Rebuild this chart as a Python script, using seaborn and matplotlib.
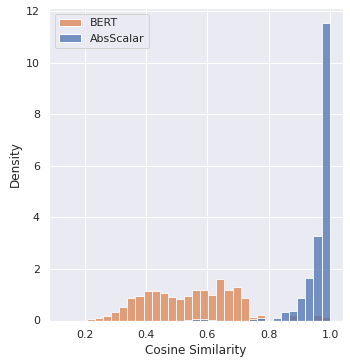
import numpy as np
import pandas as pd
import matplotlib
matplotlib.use("Agg")
import matplotlib.pyplot as plt
import seaborn as sns

# Bin layout (common bins for both models)
bin_lo = 0.1288
bin_hi = 0.9988
n_bins = 33

models = ["AbsScalar", "BERT"]
legend_order = ["BERT", "AbsScalar"]

bert_density = [0.0, 0.0, 0.0, 0.045, 0.084, 0.19, 0.34, 0.54, 0.89, 0.96,
                1.16, 1.16, 1.08, 0.93, 0.82, 0.96, 1.20, 1.20, 1.00, 1.62,
                1.20, 1.31, 0.89, 0.15, 0.23, 0.0, 0.0, 0.0, 0.23, 0.0,
                0.0, 0.23, 0.12]
abs_density = [0.0, 0.0, 0.0, 0.0, 0.0, 0.0, 0.0, 0.0, 0.0, 0.0,
               0.0, 0.0, 0.0, 0.0, 0.0, 0.02, 0.07, 0.07, 0.02, 0.0,
               0.0, 0.0, 0.0, 0.07, 0.11, 0.0, 0.09, 0.32, 0.36, 0.87,
               1.66, 3.26, 11.53]

edges = [float(e) for e in np.linspace(bin_lo, bin_hi, n_bins + 1)]
centers = [(a + b) / 2 for a, b in zip(edges[:-1], edges[1:])]

df = pd.concat([
    pd.DataFrame({"sim": centers, "w": abs_density, "model": "AbsScalar"}),
    pd.DataFrame({"sim": centers, "w": bert_density, "model": "BERT"}),
], ignore_index=True)

sns.set_theme(style="darkgrid")
fig = plt.figure(figsize=(350 / 72, 364 / 72), dpi=72)
ax = fig.add_axes([49.3 / 350, 1 - 320.5 / 364, (343 - 49.3) / 350, (320.5 - 8.3) / 364])

sns.histplot(data=df, x="sim", weights="w", hue="model", hue_order=models,
             bins=edges, stat="count", alpha=0.75, ax=ax)

leg = ax.get_legend()
handles = {t.get_text(): h for t, h in zip(leg.get_texts(), leg.legend_handles)}
leg.remove()
ax.legend([handles[m] for m in legend_order], legend_order, loc="upper left")

ax.set_xlabel("Cosine Similarity")
ax.set_ylabel("Density")

fig.savefig("out.png", dpi=72)
